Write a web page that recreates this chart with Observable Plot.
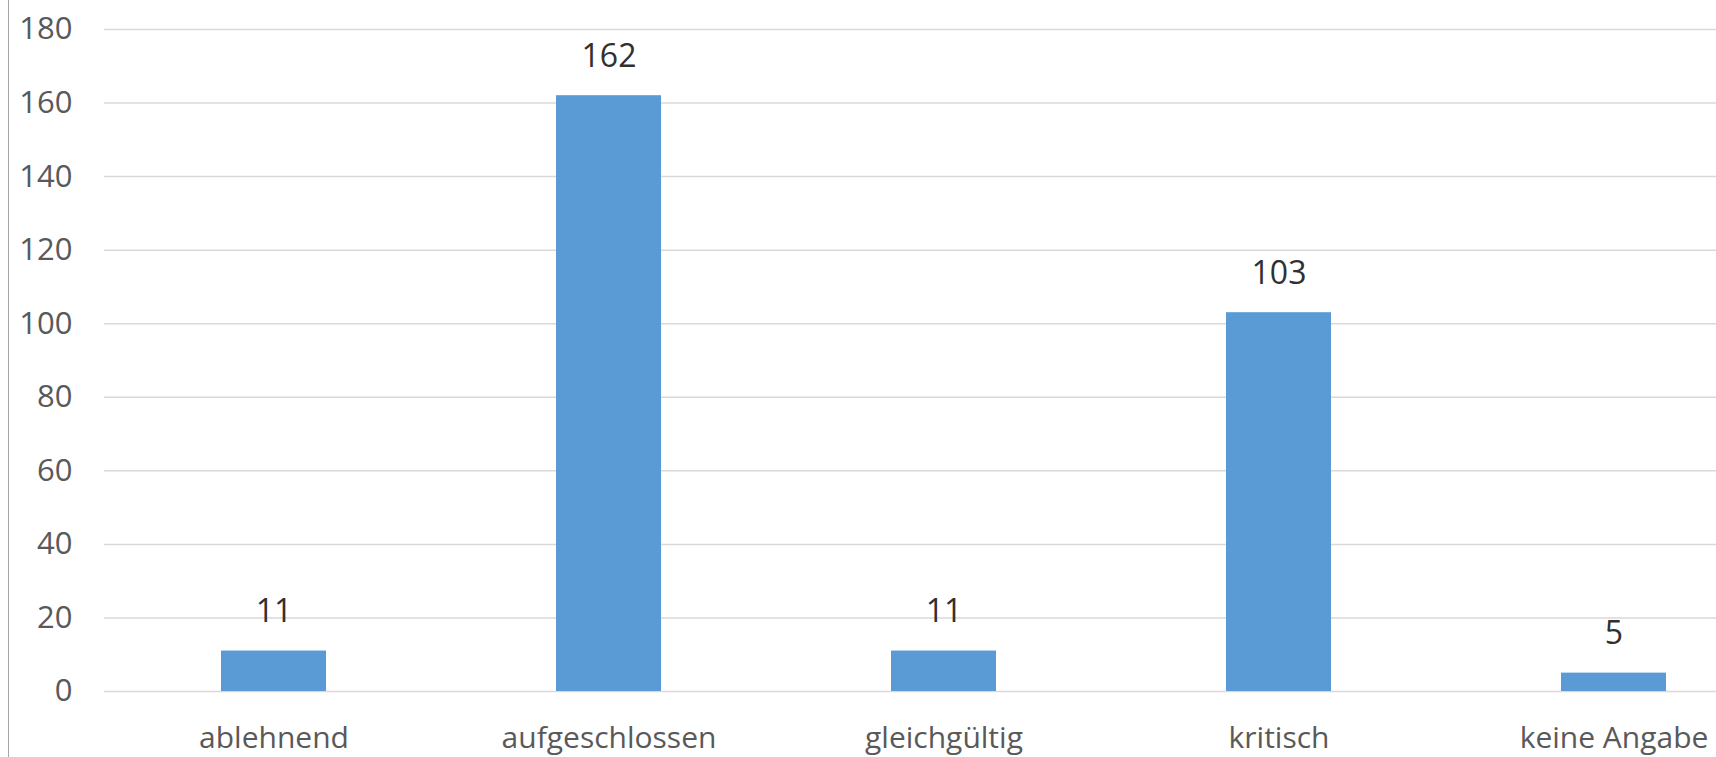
<!DOCTYPE html>
<html>
<head>
<meta charset="utf-8">
<script src="https://cdn.jsdelivr.net/npm/d3@7"></script>
<script src="https://cdn.jsdelivr.net/npm/@observablehq/plot@0.6"></script>
<style>
  html, body { margin: 0; padding: 0; background: #fff; overflow: hidden; }
  #wrap { position: relative; width: 1716px; height: 757px; }
  #border { position: absolute; left: 7.5px; top: 0; width: 1.5px; height: 757px; background: #A6A6A6; }
</style>
</head>
<body>
<div id="wrap"><div id="border"></div></div>
<script>
const categories = ["ablehnend", "aufgeschlossen", "gleichgültig", "kritisch", "keine Angabe"];
const values = [11, 162, 11, 103, 5];
const yTicks = [0, 20, 40, 60, 80, 100, 120, 140, 160, 180];

const data = categories.map((c, i) => ({category: c, value: values[i]}));
const font = "'Open Sans', sans-serif";

const chart = Plot.plot({
  width: 1716,
  height: 757,
  marginLeft: 104,
  marginRight: 0,
  marginTop: 29,
  marginBottom: 66,
  style: {fontFamily: font, background: "transparent"},
  x: {domain: categories, range: [104, 1782], paddingInner: 0.687, paddingOuter: 0.3435, label: null},
  y: {domain: [0, 180], label: null},
  marks: [
    Plot.ruleY(yTicks, {stroke: "#D9D9D9", strokeWidth: 1.5}),
    Plot.barY(data, {x: "category", y: "value", fill: "#5B9BD5"}),
    Plot.text(data, {x: "category", y: "value", text: d => String(d.value), dy: -39, fontSize: 32, fill: "#303030", fontFamily: font}),
    Plot.axisY({ticks: yTicks, tickSize: 0, tickPadding: 32, fontSize: 31, fill: "#595959", label: null, fontFamily: font}),
    Plot.axisX({tickSize: 0, tickPadding: 35, fontSize: 30, fill: "#595959", label: null, fontFamily: font})
  ]
});
document.getElementById("wrap").prepend(chart);
</script>
</body>
</html>
